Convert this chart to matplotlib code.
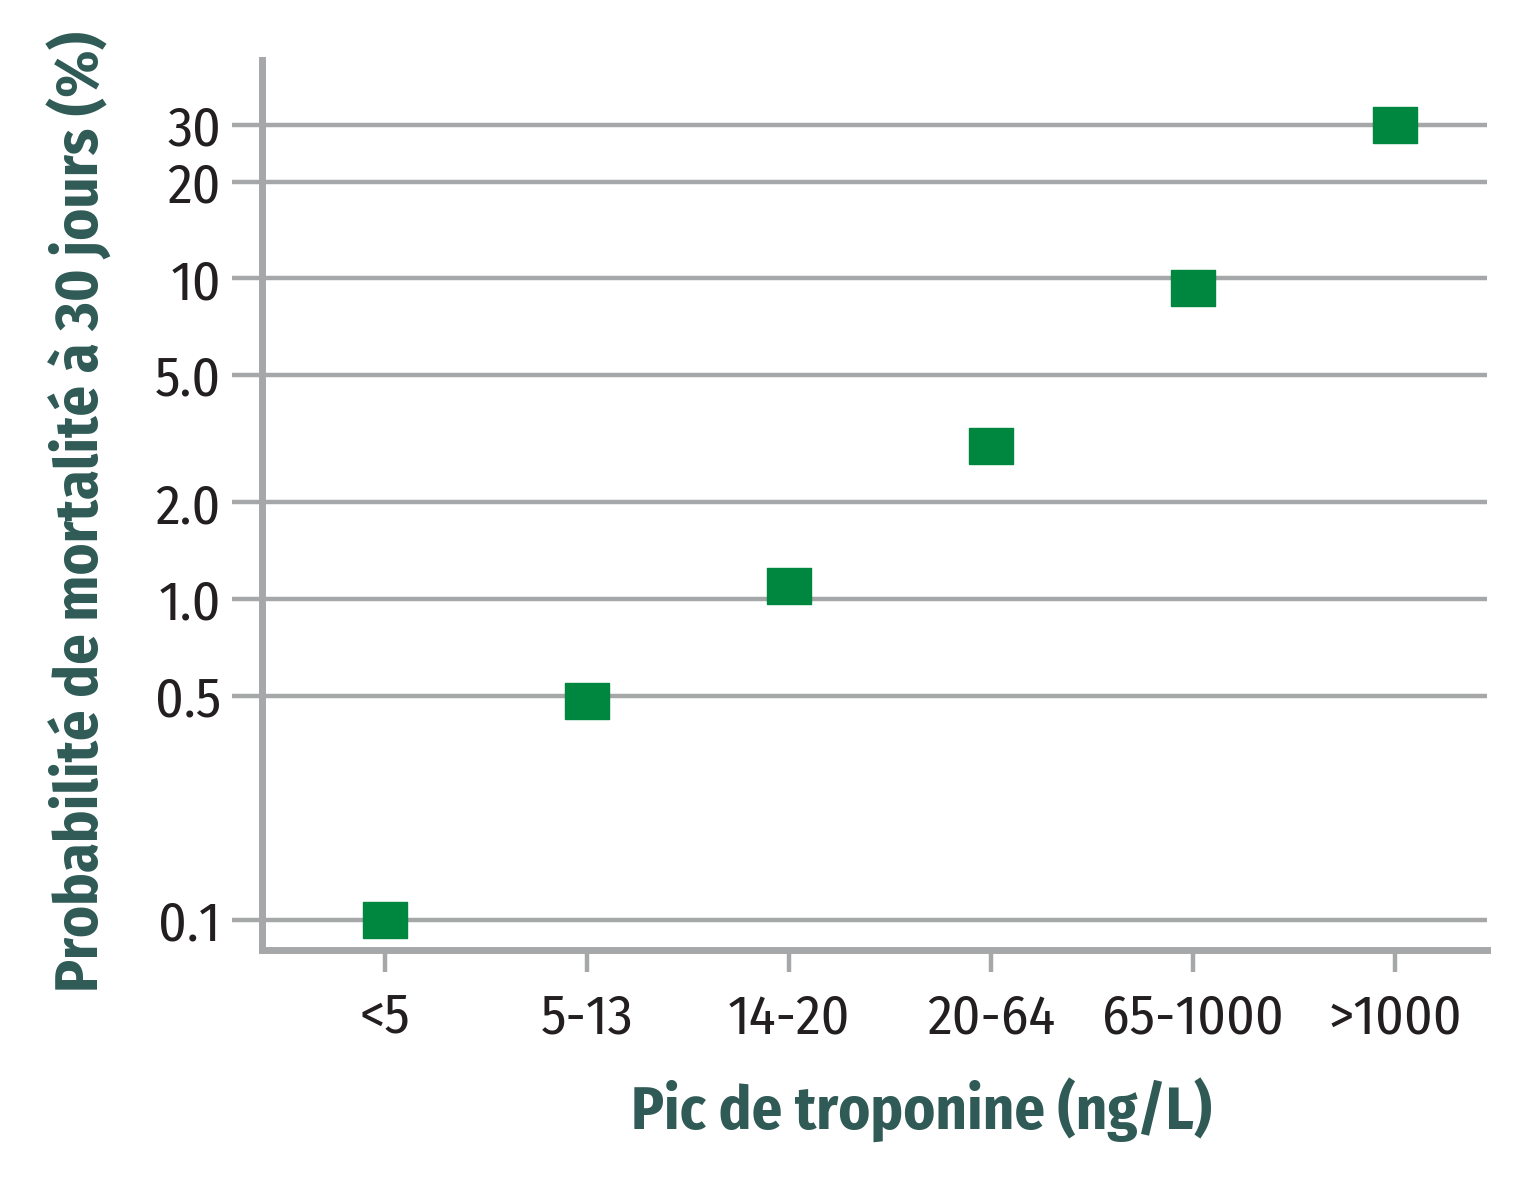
import matplotlib.pyplot as plt
from matplotlib import font_manager
from matplotlib.ticker import FixedLocator, NullLocator

categories = ['<5', '5-13', '14-20', '20-64', '65-1000', '>1000']
mortality = [0.1, 0.48, 1.1, 3.0, 9.3, 30]
y_ticks = [0.1, 0.5, 1.0, 2.0, 5.0, 10, 20, 30]
y_tick_labels = ['0.1', '0.5', '1.0', '2.0', '5.0', '10', '20', '30']

GREEN = '#00873f'
GREY = '#a5a7a9'
TEAL = '#2f5a56'

# police condensée, la première trouvée
installed = {f.name for f in font_manager.fontManager.ttflist}
candidates = ['Fira Sans Condensed', 'Roboto Condensed', 'PT Sans Narrow',
              'Archivo Narrow', 'Liberation Sans Narrow']
FONT = [c for c in candidates if c in installed][:1] + ['DejaVu Sans']
plt.rcParams['font.family'] = FONT

fig = plt.figure(figsize=(15.36, 11.77), dpi=100)
ax = fig.add_axes([0.1706, 0.1929, 0.7975, 0.7562])

x = list(range(len(categories)))
rect = [(-1.19, -1), (1.19, -1), (1.19, 1), (-1.19, 1), (-1.19, -1)]
ax.plot(x, mortality, linestyle='none', marker=rect, markersize=31.5,
        color=GREEN, zorder=3)

ax.set_yscale('log')
ax.set_ylim(0.0806, 47.9)
ax.set_xlim(-0.61, 5.455)
ax.yaxis.set_major_locator(FixedLocator(y_ticks))
ax.yaxis.set_minor_locator(NullLocator())
ax.set_yticklabels(y_tick_labels)
ax.set_xticks(x)
ax.set_xticklabels(categories)

ax.grid(axis='y', color=GREY, linewidth=3.2, zorder=1)
ax.set_axisbelow(True)
for side in ['top', 'right']:
    ax.spines[side].set_visible(False)
for side in ['left', 'bottom']:
    ax.spines[side].set_color(GREY)
    ax.spines[side].set_linewidth(5)

ax.tick_params(axis='y', length=21.6, width=3.2, color=GREY, pad=8,
               labelsize=40, labelcolor='#231f20')
ax.tick_params(axis='x', length=16, width=3.2, color=GREY, pad=14,
               labelsize=40, labelcolor='#231f20')

fig.text(0.600, 0.057, 'Pic de troponine (ng/L)', ha='center', va='center',
         fontsize=43.5, fontweight='bold', color=TEAL)
fig.text(0.051, 0.565, 'Probabilité de mortalité à 30 jours (%)', ha='center',
         va='center', rotation=90, fontsize=43.5, fontweight='bold', color=TEAL)

fig.savefig('out.png', dpi=100)
